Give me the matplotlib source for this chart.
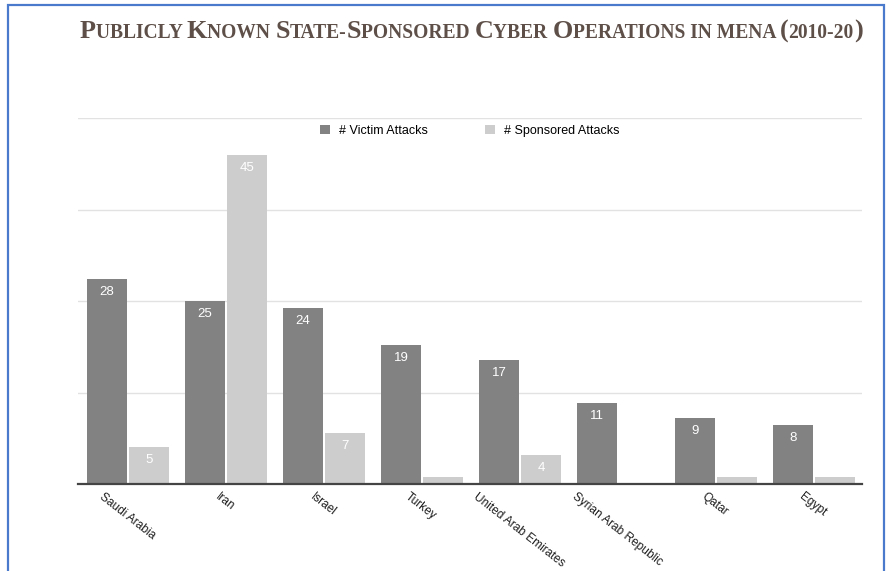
# Gráfico de barras: operaciones cibernéticas en MENA (2010-20)
import numpy as np
import matplotlib.pyplot as plt
from matplotlib.patches import Rectangle

# Datos
paises = ['Saudi Arabia', 'Iran', 'Israel', 'Turkey', 'United Arab Emirates',
          'Syrian Arab Republic', 'Qatar', 'Egypt']
ataques_victima = [28, 25, 24, 19, 17, 11, 9, 8]
ataques_patrocinados = [5, 45, 7, 1, 4, 0, 1, 1]
series = ['# Victim Attacks', '# Sponsored Attacks']
titulo = 'Publicly Known State-Sponsored Cyber Operations in mena (2010-20)'

color_victima = '#828282'
color_patrocinado = '#cdcdcd'
color_titulo = '#5e5049'

fig = plt.figure(figsize=(8.87, 5.71), dpi=100)
fig.patch.set_facecolor('white')
ax = fig.add_axes([78 / 887, 87 / 571, 784 / 887, 366 / 571])

x = np.arange(len(paises))
ancho = 0.4
barras_v = ax.bar(x - 0.205, ataques_victima, ancho, color=color_victima, label=series[0], zorder=3)
barras_p = ax.bar(x + 0.225, ataques_patrocinados, ancho, color=color_patrocinado, label=series[1], zorder=3)

# Etiquetas de valor dentro de las barras
for barras in (barras_v, barras_p):
    for b in barras:
        v = b.get_height()
        cx = b.get_x() + b.get_width() / 2
        if v >= 3:
            ax.annotate(str(int(v)), (cx, v), xytext=(0, -5), textcoords='offset points',
                        ha='center', va='top', color='white', fontsize=9.5,
                        family='Liberation Sans', zorder=4)
        else:
            ax.annotate(str(int(v)), (cx, v), xytext=(0, 1), textcoords='offset points',
                        ha='center', va='bottom', color='white', fontsize=9.5,
                        family='Liberation Sans', zorder=4)

# Ejes y cuadrícula
ax.set_xlim(-0.5, len(paises) - 0.5)
ax.set_ylim(0, 50)
ax.set_yticks([0, 12.5, 25, 37.5, 50])
ax.set_yticklabels([])
ax.tick_params(axis='both', length=0)
ax.grid(axis='y', color='#e2e2e2', linewidth=1, zorder=0)
for lado in ['top', 'right', 'left']:
    ax.spines[lado].set_visible(False)
ax.spines['bottom'].set_color('#444444')
ax.spines['bottom'].set_linewidth(1.6)
ax.spines['bottom'].set_zorder(5)

ax.set_xticks(x)
ax.set_xticklabels(paises, rotation=-38, ha='center', va='top', fontsize=8.6,
                   family='Liberation Sans', color='#1e1e1e')
ax.tick_params(axis='x', pad=5)

# Leyenda
ax.legend(loc='upper center', bbox_to_anchor=(0.5, 1.012), ncol=2, frameon=False,
          prop={'family': 'Liberation Sans', 'size': 9}, handlelength=0.8,
          handleheight=0.8, columnspacing=4.6, handletextpad=0.7)

# Título en versalitas (mayúsculas grandes + mayúsculas pequeñas)
tam_grande, tam_pequeno = 16, 12
trozos = []
for c in titulo:
    grande = c.isupper() or c in '()'
    tam = tam_grande if grande else tam_pequeno
    if trozos and trozos[-1][1] == tam:
        trozos[-1][0] += c.upper()
    else:
        trozos.append([c.upper(), tam])

fig.canvas.draw()
render = fig.canvas.get_renderer()
textos = []
px = 80
for t, tam in trozos:
    txt = fig.text(px / 887, 1 - 38 / 571, t, fontsize=tam, family='Liberation Serif',
                   weight='bold', color=color_titulo, va='baseline', ha='left')
    px += txt.get_window_extent(render).width
    textos.append(txt)

# Ajuste para que el título ocupe el ancho deseado
escala = (862 - 80) / (px - 80)
px = 80
for txt in textos:
    txt.set_fontsize(txt.get_fontsize() * escala)
    txt.set_x(px / 887)
    px += txt.get_window_extent(render).width

# Marco azul
fig.patches.append(Rectangle((8 / 887, -0.02), 876 / 887, 1 - 5 / 571 + 0.02,
                             transform=fig.transFigure, fill=False,
                             edgecolor='#4a7acb', linewidth=1.6))

fig.savefig('out.png', dpi=100)
